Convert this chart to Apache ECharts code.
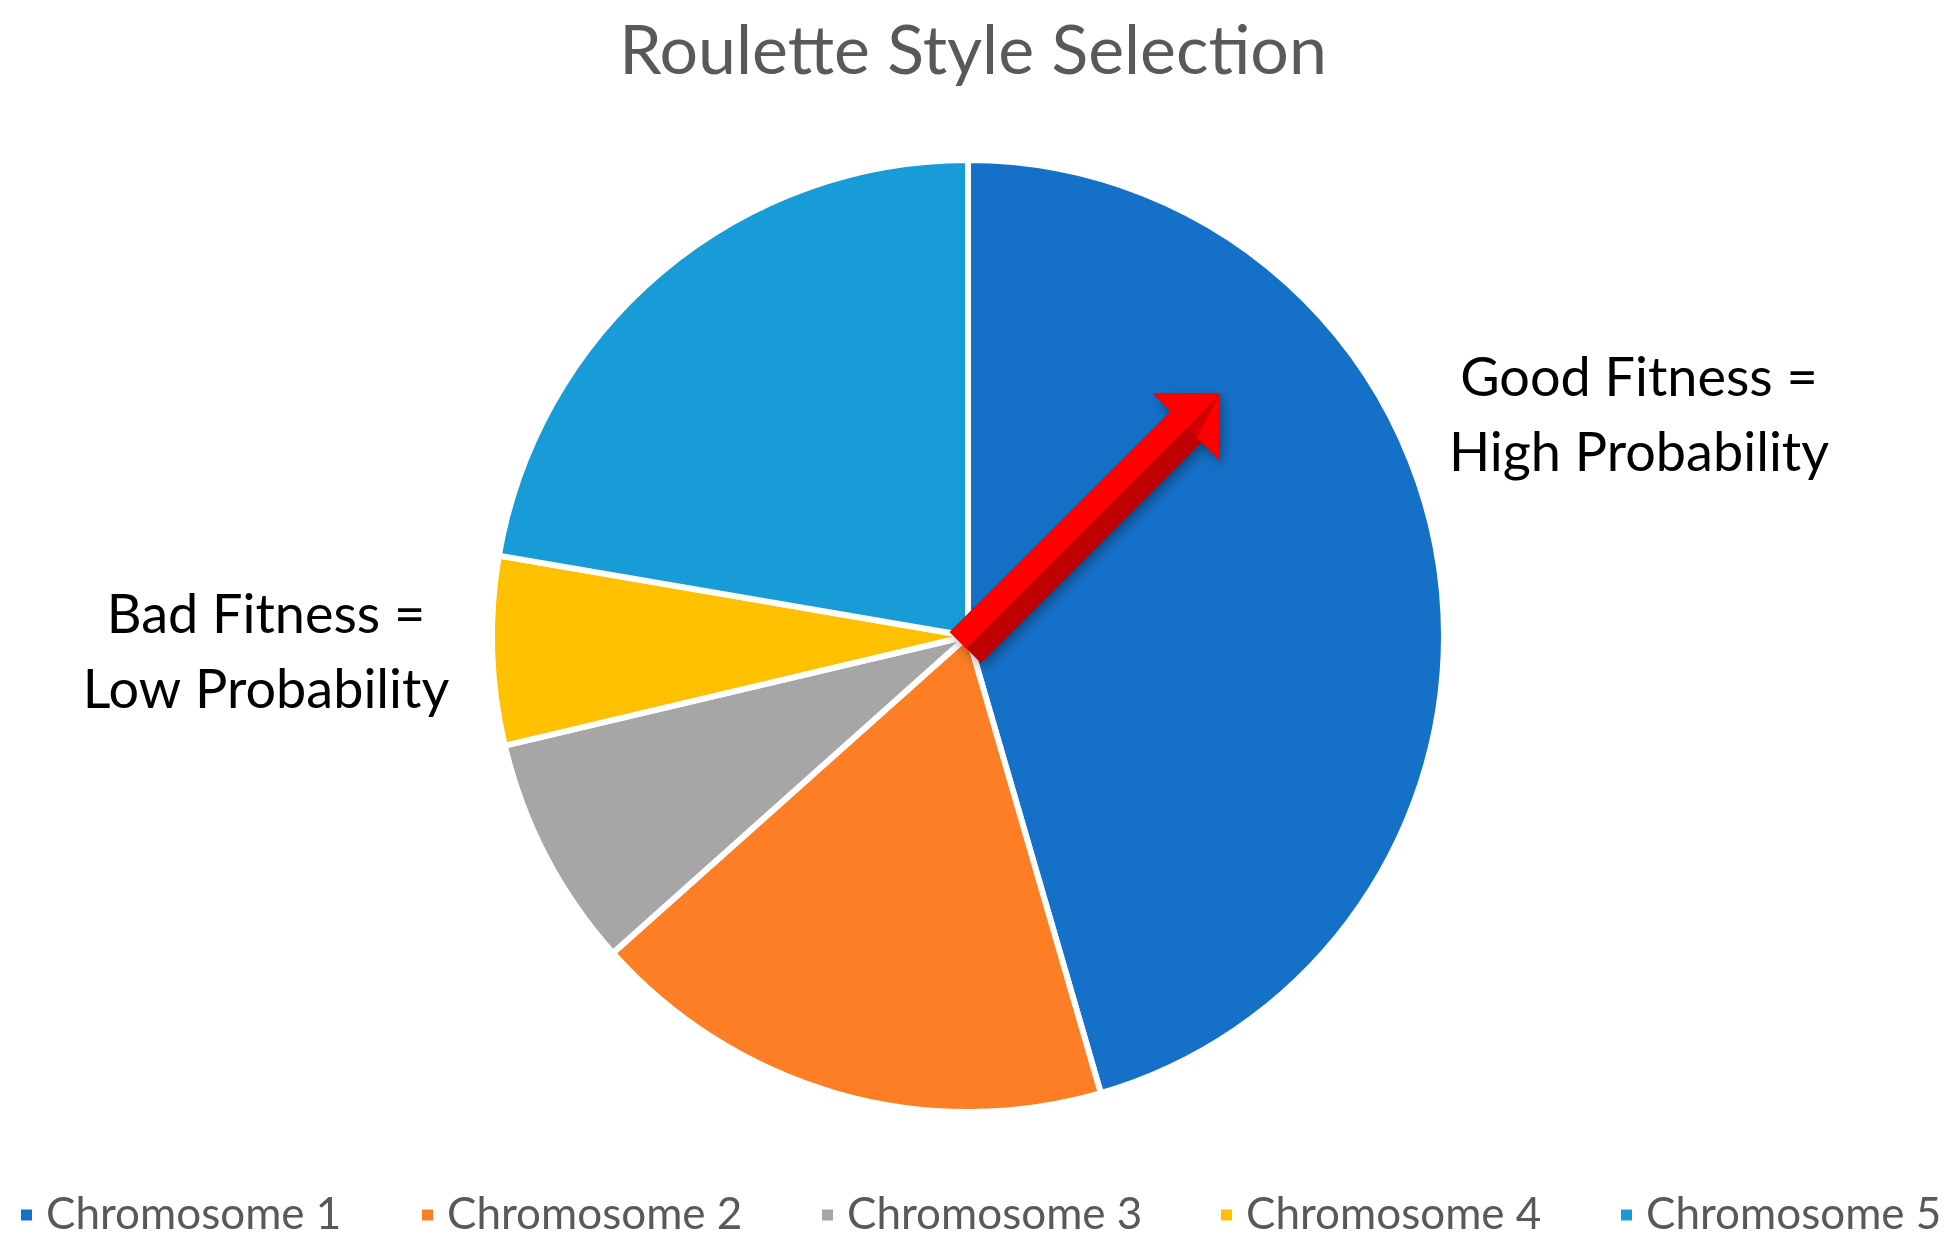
<!DOCTYPE html>
<html>
<head>
<meta charset="utf-8">
<title>Roulette Style Selection</title>
<script src="https://cdn.jsdelivr.net/npm/echarts@6/dist/echarts.min.js"></script>
<style>
  html, body { margin: 0; padding: 0; background: #ffffff; }
  #chart { width: 1959px; height: 1255px; }
</style>
</head>
<body>
<div id="chart"></div>
<script>
// chart data
const chromosomes = ["Chromosome 1", "Chromosome 2", "Chromosome 3", "Chromosome 4", "Chromosome 5"];
const fitnessShare = [45.5, 17.9, 7.9, 6.4, 22.3];
const sliceColors = ["#1571C8", "#FD7E24", "#A6A6A6", "#FFC000", "#189CD8"];
const legendLeft = [14, 415, 815, 1214, 1614];

const FONT = "Lato, 'Open Sans', sans-serif";

// arrow from the wheel centre toward chromosome 1 (decoration only)
function arrowShapes() {
    const tip = [1220, 393];
    const u = [Math.SQRT1_2, -Math.SQRT1_2];  // along arrow
    const n = [Math.SQRT1_2, Math.SQRT1_2];   // lower-right side
    const at = (along, side) => [
        tip[0] + u[0] * along + n[0] * side,
        tip[1] + u[1] * along + n[1] * side
    ];
    const headLen = 48, headHalf = 47, shaftHalf = 22, shaftLen = 312;
    const hb = -headLen, base = -headLen - shaftLen;
    const outline = [
        tip, at(hb, -headHalf), at(hb, -shaftHalf), at(base, -shaftHalf),
        at(base, shaftHalf), at(hb, shaftHalf), at(hb, headHalf)
    ];
    const bright = [
        tip, at(hb, -headHalf), at(hb, -shaftHalf), at(base, -shaftHalf),
        at(base, 1), at(hb, 1), at(hb, headHalf)
    ];
    const ridge = [tip, at(hb, 1), at(hb, 16)];
    return [
        {
            type: "polygon", z: 100,
            shape: { points: outline },
            style: {
                fill: "#C00000",
                shadowBlur: 12, shadowColor: "rgba(0,0,0,0.35)",
                shadowOffsetX: 3, shadowOffsetY: 5
            }
        },
        { type: "polygon", z: 101, shape: { points: bright }, style: { fill: "#FF0000" } },
        { type: "polygon", z: 102, shape: { points: ridge }, style: { fill: "#D40000" } }
    ];
}

function note(text, x, y) {
    return {
        type: "text", z: 100,
        style: {
            text: text,
            x: x,
            y: y,
            align: "center",
            verticalAlign: "middle",
            fontFamily: FONT,
            fontSize: 54,
            lineHeight: 75,
            fill: "#000000"
        }
    };
}

const chart = echarts.init(document.getElementById("chart"), null, { renderer: "canvas" });

const option = {
    backgroundColor: "#ffffff",
    animation: false,
    title: {
        text: "Roulette Style Selection",
        left: 968,
        textAlign: "center",
        top: 6,
        textStyle: {
            fontFamily: FONT,
            fontSize: 68,
            fontWeight: "normal",
            color: "#595959",
            lineHeight: 82
        }
    },
    legend: chromosomes.map((name, i) => ({
        data: [name],
        left: legendLeft[i],
        top: 1188,
        icon: "rect",
        itemWidth: 13,
        itemHeight: 13,
        selectedMode: false,
        textStyle: {
            fontFamily: FONT,
            fontSize: 44,
            color: "#595959",
            padding: [0, 0, 0, 8]
        }
    })),
    series: [
        {
            type: "pie",
            center: [968, 636],
            radius: 476,
            startAngle: 90,
            clockwise: true,
            label: { show: false },
            labelLine: { show: false },
            emphasis: { disabled: true },
            itemStyle: { borderColor: "#ffffff", borderWidth: 6 },
            data: chromosomes.map((name, i) => ({
                name: name,
                value: fitnessShare[i],
                itemStyle: { color: sliceColors[i] }
            }))
        }
    ],
    graphic: [
        note("Good Fitness =\nHigh Probability", 1639, 416),
        note("Bad Fitness =\nLow Probability", 266, 653)
    ].concat(arrowShapes())
};

chart.setOption(option);
</script>
</body>
</html>
